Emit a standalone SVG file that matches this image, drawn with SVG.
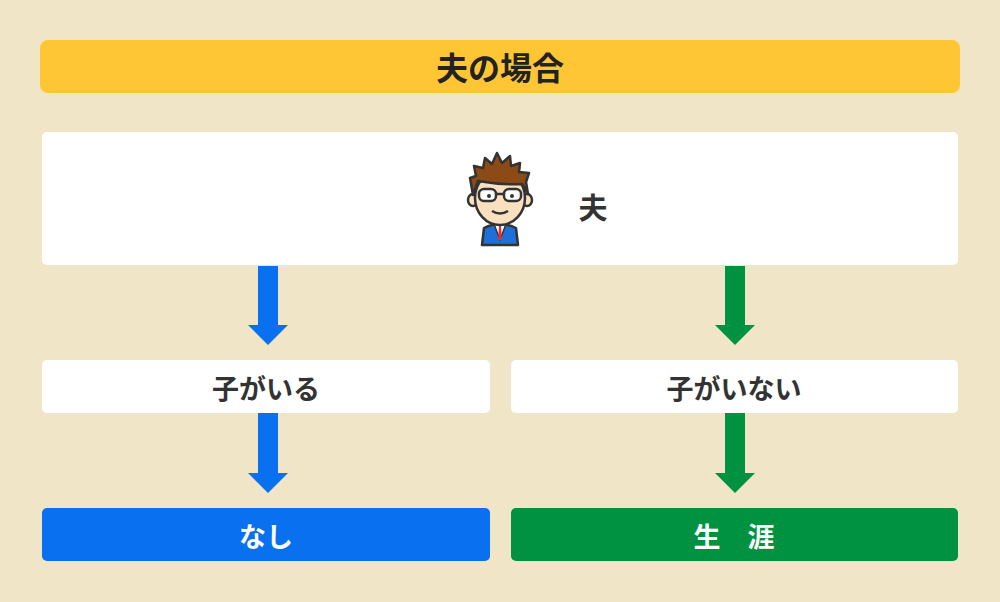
<svg xmlns="http://www.w3.org/2000/svg" width="1000" height="602" viewBox="0 0 1000 602">
<style>
text{font-family:"Noto Sans CJK JP","Noto Sans CJK SC",sans-serif;font-weight:bold;text-anchor:middle;dominant-baseline:central}
.w{fill:#fff}
.t{fill:#333;font-size:27px}
.tw{fill:#fff;font-size:27px}
</style>
<rect width="1000" height="602" fill="#f0e6c7"/>
<g id="title"><rect x="40" y="40" width="920" height="53" rx="8" fill="#fec534"/><text x="500" y="66" class="t" style="font-size:32px;fill:#222">夫の場合</text></g>
<g id="husband"><rect x="42" y="132" width="916" height="133" rx="5" class="w"/>
<g id="avatar" stroke="#333" stroke-width="2.5" stroke-linejoin="round">
<path d="M482 245 L484 228 Q500 220 516 228 L518 245 Z" fill="#1e6fd8"/>
<path d="M494 224 L500 240 L506 224 Z" fill="#fff" stroke-width="1.5"/>
<path d="M499 226 L501 226 L502 240 L498 240 Z" fill="#d33" stroke="none"/>
<ellipse cx="473" cy="200" rx="5" ry="6" fill="#fbe0c0"/>
<ellipse cx="527" cy="200" rx="5" ry="6" fill="#fbe0c0"/>
<ellipse cx="500" cy="198" rx="25" ry="27" fill="#fbe0c0"/>
<path d="M473 195 L470 178 L476 176 L474 166 L483 168 L485 158 L492 164 L497 153 L502 163 L510 156 L511 166 L520 163 L519 172 L529 173 L526 182 L528 194 L522 184 Q500 185 478 181 Z" fill="#8b4a16"/>
<rect x="479" y="189" width="17" height="12" rx="5" fill="#fff"/>
<rect x="504" y="189" width="17" height="12" rx="5" fill="#fff"/>
<path d="M496 194 L504 194" fill="none"/>
<circle cx="489" cy="196" r="2" fill="#333" stroke="none"/><circle cx="512" cy="196" r="2" fill="#333" stroke="none"/>
<path d="M492 211 Q500 216 508 211" fill="none"/>
</g>
<text x="593" y="206" class="t" style="font-size:29px">夫</text></g>
<g id="yes"><rect x="42" y="360" width="448" height="53" rx="5" class="w"/><text x="266" y="387" class="t">子がいる</text></g>
<g id="no"><rect x="511" y="360" width="447" height="53" rx="5" class="w"/><text x="734" y="387" class="t">子がいない</text></g>
<g id="none"><rect x="42" y="508" width="448" height="53" rx="5" fill="#0970f0"/><text x="266" y="535" class="tw">なし</text></g>
<g id="life"><rect x="511" y="508" width="447" height="53" rx="5" fill="#009240"/><text x="734" y="535" class="tw">生　涯</text></g>
<g id="connectors">
<path d="M258 266H278V325H288L268 345L248 325H258Z" fill="#0970f0"/>
<path d="M258 413H278V473H288L268 493L248 473H258Z" fill="#0970f0"/>
<path d="M725 266H745V325H755L735 345L715 325H725Z" fill="#009240"/>
<path d="M725 413H745V473H755L735 493L715 473H725Z" fill="#009240"/>
</g>
</svg>
